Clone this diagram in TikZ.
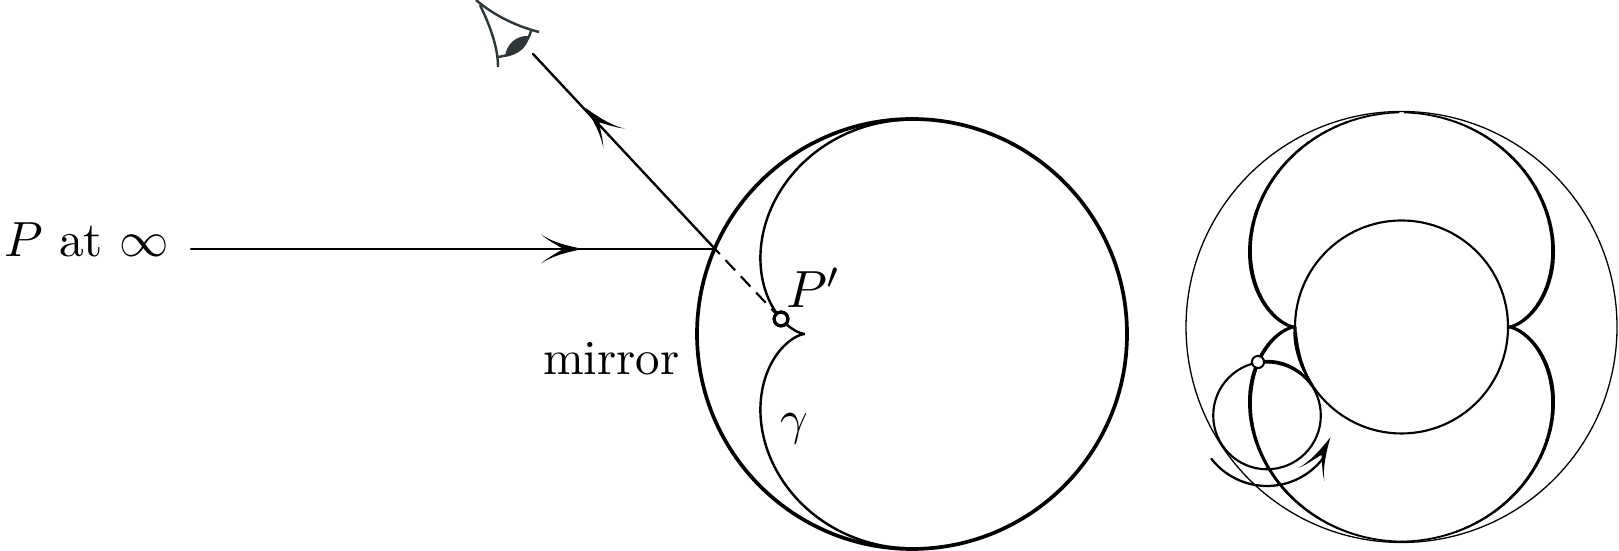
\documentclass[tikz,border=0pt]{standalone}
\usepackage{amsmath}
\definecolor{eyecol}{HTML}{2E3639}
\tikzset{
  mirrorline/.style={line width=0.76pt},
  rayline/.style={line width=0.49pt,line cap=round},
  causticline/.style={line width=0.5pt},
  thinline/.style={line width=0.27pt},
  innerline/.style={line width=0.44pt},
  lab/.style={anchor=base west,inner sep=0pt,outer sep=0pt},
  eyeline/.style={color=eyecol,line width=0.5pt},
  imgdot/.style={circle,draw,fill=white,line width=0.66pt,minimum size=2.83pt,inner sep=0pt},
  smalldot/.style={circle,draw,fill=white,line width=0.42pt,minimum size=2.5pt,inner sep=0pt}
}
\newcommand{\barbtip}[3]{%
  \fill[shift={(#1,#2)},rotate=#3]
    (1,0) .. controls (-14,3) and (-29,6.5) .. (-41,14.5)
    .. controls (-32,7) and (-24,3.5) .. (-19,0)
    .. controls (-24,-3.5) and (-32,-7) .. (-41,-14.5)
    .. controls (-29,-6.5) and (-14,-3) .. (1,0) -- cycle;}
\begin{document}
\begin{tikzpicture}[x=0.2064pt,y=-0.2064pt]
\useasboundingbox (0,0) rectangle (1619,551);
\clip (0,0) rectangle (1619,551);
% ---------- left figure
\coordinate (mc) at (912,334);
\draw[mirrorline] (mc) circle [x radius=215,y radius=-215];
\draw[causticline,smooth] plot[domain=90:270,samples=121,variable=\t]
  ({912+53.6*(3*cos(\t)-cos(3*\t))},{334-53.6*(3*sin(\t)-sin(3*\t))});
\coordinate (src) at (191,249);
\coordinate (M) at (715,249);
\coordinate (eyeend) at (533,54);
\node[imgdot] (Pimg) at (781,319) {};
\draw[rayline] (src) -- (M);
\draw[rayline] (M) -- (eyeend);
\draw[line width=0.44pt,dash pattern=on 2.9pt off 1.7pt,dash phase=1.45pt] (M) -- (Pimg);
\node[imgdot] at (Pimg) {};
\barbtip{582}{249}{0}
\barbtip{586}{108.5}{133}
% eye
\draw[eyeline] (476,0) .. controls (492,14) and (515,26) .. (539,32);
\draw[eyeline] (480,5) .. controls (491,28) and (498,48) .. (498,67);
\draw[eyeline] (498,57) .. controls (514,55) and (527,46) .. (531,31);
\fill[eyecol] (505,57) .. controls (506,44) and (517,35) .. (529,36)
   .. controls (528,47) and (518,55) .. (505,57) -- cycle;
% labels
\node[lab,scale=1.02] (pinf) at (4,257) {$P$ at $\infty$};
\node[lab,scale=1.01] (mirrorlab) at (543,375) {mirror};
\node[lab,scale=1.08] (pprime) at (786,308) {$P'$};
\node[lab] (gammalab) at (780,435) {$\gamma$};
% ---------- right figure
\coordinate (oc) at (1401.5,327);
\draw[thinline] (oc) circle [x radius=215.5,y radius=-215.5];
\draw[innerline] (oc) circle [x radius=106.5,y radius=-106.5];
\coordinate (rc) at (1267,415.5);
\draw[innerline] (rc) circle [x radius=53.8,y radius=-53.8];
% thicker stretches of the inner and the rolling circle
\foreach \t/\w in {180/3.2,183/3.9,186/4.1,189/4.1,192/4,195/3.8,198/3.5,201/3.2,204/2.9,207/2.6,210/2.3}{
  \draw[line width=\w*0.2064pt,line cap=round] plot[domain=\t:\t+3,samples=3,variable=\a]
    ({1401.5+106.5*cos(\a)},{327-106.5*sin(\a)});
}
\foreach \t/\w in {33/2.3,39/2.7,45/3,51/3.3,57/3.5,63/3.6,69/3.7,75/3.7,81/3.7,87/3.7}{
  \draw[line width=\w*0.2064pt,line cap=round] plot[domain=\t:\t+6,samples=3,variable=\a]
    ({1267+53.8*cos(\a)},{415.5-53.8*sin(\a)});
}
% nephroid with a varying stroke
\foreach \t in {0,2,...,358}{
  \ifnum\t=88\relax\else\ifnum\t=90\relax\else
  \pgfmathsetmacro{\tm}{mod(\t+1,180)}
  \pgfmathsetmacro{\uu}{abs(\tm-90)/90}
  \pgfmathsetmacro{\wd}{\uu<0.55 ? 1.5+2.5*\uu/0.55 : 4-1.3*(\uu-0.55)/0.45}
  \draw[line width=\wd*0.2064pt,line cap=butt] plot[domain=\t:\t+2.2,samples=3,variable=\a]
    ({1401.5+53.6*(3*cos(\a)-cos(3*\a))},{327-53.6*(3*sin(\a)-sin(3*\a))});
  \fi\fi
}
\draw[line width=1.5*0.2064pt] plot[domain=88:89.6,samples=3,variable=\a]
    ({1401.5+53.6*(3*cos(\a)-cos(3*\a))},{327-53.6*(3*sin(\a)-sin(3*\a))});
\draw[line width=1.5*0.2064pt] plot[domain=90.4:92,samples=3,variable=\a]
    ({1401.5+53.6*(3*cos(\a)-cos(3*\a))},{327-53.6*(3*sin(\a)-sin(3*\a))});
\node[smalldot] (trace) at (1258,362) {};
% rolling arrow
\draw[line width=0.47pt,line cap=round,smooth] plot[domain=218:325,samples=41,variable=\a]
    ({1267+70.5*cos(\a)},{415.5-70.5*sin(\a)});
\barbtip{1330}{438}{63}
\end{tikzpicture}
\end{document}
